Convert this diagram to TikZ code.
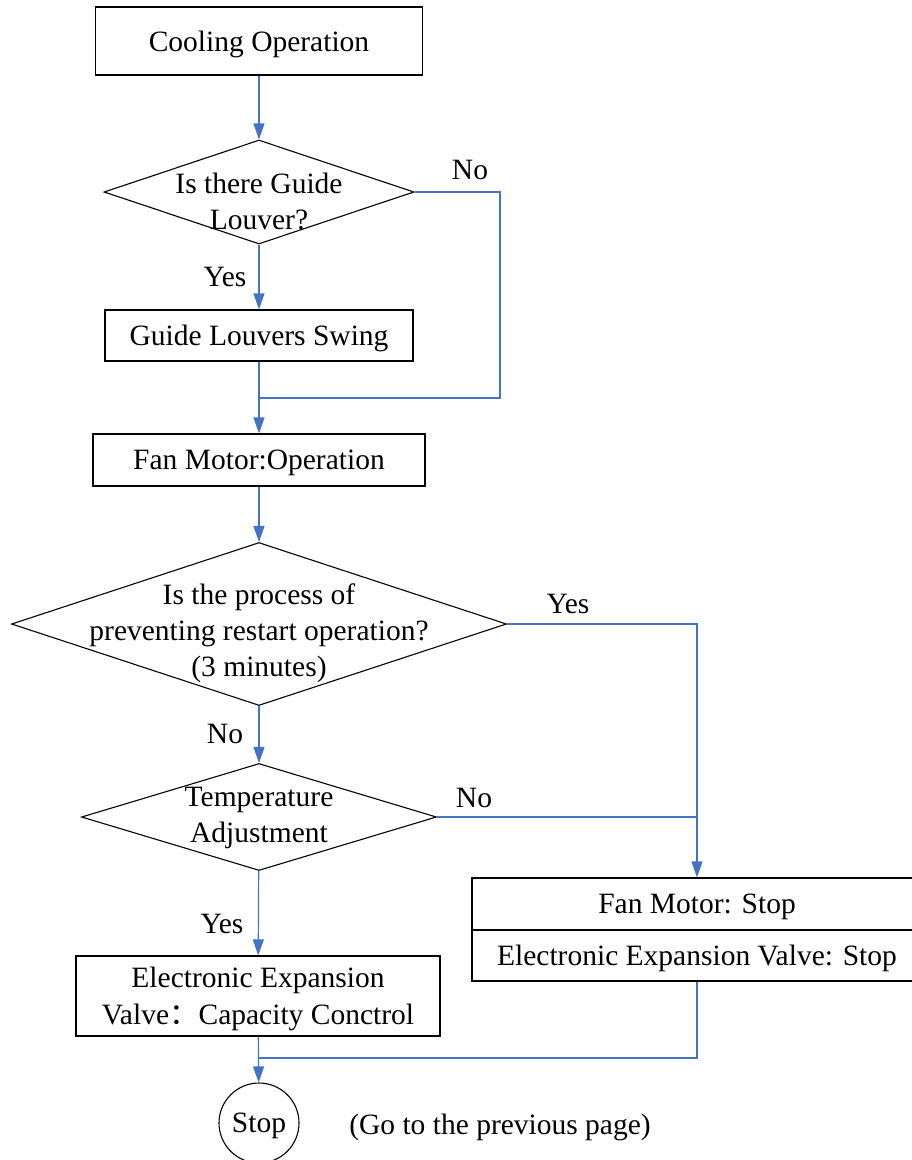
\documentclass[tikz,border=0pt]{standalone}
\usepackage{fontspec}
\setmainfont{Liberation Serif}
\newfontfamily\cjk{Noto Sans CJK SC}
\usetikzlibrary{shapes.geometric,arrows.meta}
\definecolor{flowblue}{RGB}{68,114,196}

\begin{document}
\begin{tikzpicture}[x=1pt,y=-1pt,>={Triangle[length=16pt,width=11pt]},font=\fontsize{29.5}{36}\selectfont,
	box/.style={draw,line width=1.2pt,inner sep=0pt,align=center,text depth=0pt},
	decision/.style={draw,diamond,line width=1.1pt,inner sep=0pt},
	flow/.style={draw=flowblue,line width=1.2pt}]
			\useasboundingbox (0,0) rectangle (912,1160);
			% left column
			\node[box,minimum width=327pt,minimum height=68pt] (cool) at (259,41) {Cooling Operation};
			\node[decision,minimum width=310pt,minimum height=104pt] (ask1) at (259,192) {};
			\node[align=center] (ask1txt) at (259,201) {Is there Guide\\Louver?};
			\node[box,minimum width=308pt,minimum height=51pt] (swing) at (259,335.5) {Guide Louvers Swing};
			\node[box,minimum width=332pt,minimum height=52pt] (fanop) at (259,460) {Fan Motor:Operation};
			\node[decision,minimum width=495pt,minimum height=163pt] (ask2) at (259,624) {};
			\node[align=center] (ask2txt) at (259,633) {Is the process of\\preventing restart operation?\\(3 minutes)};
			\node[decision,minimum width=355pt,minimum height=107pt] (ask3) at (259,817) {};
			\node[align=center] (ask3txt) at (259,818) {Temperature\\Adjustment};
			\node[box,minimum width=364pt,minimum height=80pt,font=\fontsize{29.5}{37}\selectfont] (valve) at (258,996) {Electronic Expansion\\Valve{\cjk ：}Capacity Conctrol};
			\node[circle,draw,line width=1.1pt,minimum size=80pt,inner sep=0pt,text depth=0pt] (endc) at (259,1123) {Stop};
			\node (gotxt) at (500,1127) {(Go to the previous page)};
			% right column
			\node[box,minimum width=450pt,minimum height=52pt] (fanstop) at (697,904) {Fan Motor: Stop};
			\node[box,minimum width=450pt,minimum height=51pt] (evstop) at (697,955.5) {Electronic Expansion Valve: Stop};
			% branch labels
			\node (no1) at (470,170) {No};
			\node (yes1) at (225,277) {Yes};
			\node (yes2) at (568,604) {Yes};
			\node (no2) at (225,734) {No};
			\node (no3) at (474,798) {No};
			\node (yes3) at (222,924) {Yes};
			\coordinate (c1) at (500,398);
			\coordinate (j1) at (259,398);
			\coordinate (j3) at (259,1058);
			\draw[flow,->] (cool) -- (ask1);
			\draw[flow,->] (ask1) -- (swing);
			\draw[flow,->] (swing) -- (fanop);
			\draw[flow] (ask1.east) -| (c1) -- (j1);
			\draw[flow,->] (fanop) -- (ask2);
			\draw[flow,->] (ask2) -- (ask3);
			\draw[flow,->] (ask2.east) -| (fanstop.north);
			\draw[flow] (ask3.east) -- (ask3.east -| fanstop.north);
			\draw[flow,->] (ask3) -- (valve);
			\draw[flow,->] (valve) -- (endc);
			\draw[flow] (evstop.south) |- (j3);
		\end{tikzpicture}
\end{document}
